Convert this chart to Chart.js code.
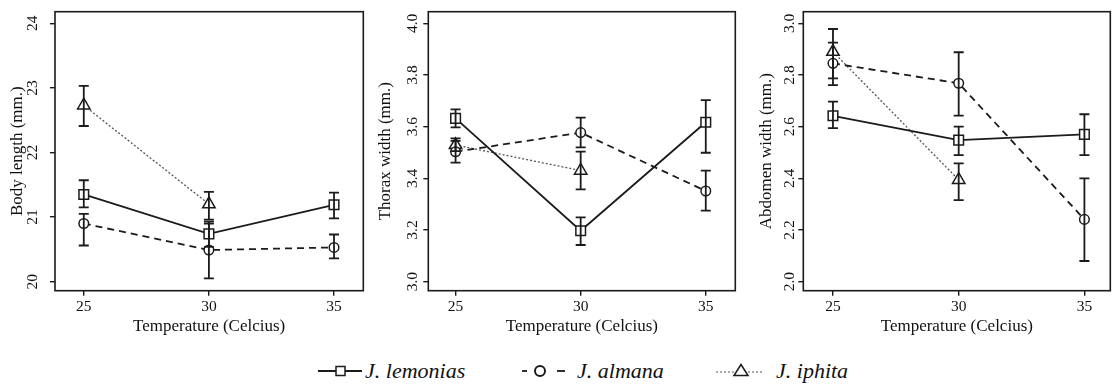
<!DOCTYPE html>
<html><head><meta charset="utf-8">
<script src="https://cdn.jsdelivr.net/npm/chart.js@4.4.1/dist/chart.umd.min.js"></script>
<style>
body{margin:0;background:#fff;width:1119px;height:390px;overflow:hidden;position:relative;font-family:"Liberation Serif","Times New Roman",serif}
.p{position:absolute;top:0;height:340px}
.sym{position:absolute;top:361px}
.lt{position:absolute;top:358px;line-height:26px;font-style:italic;font-size:22px;color:#111;white-space:nowrap}
</style></head><body>
<div class="p" style="left:0;width:372px"><canvas id="c1" width="372" height="340"></canvas></div>
<div class="p" style="left:372px;width:372px"><canvas id="c2" width="372" height="340"></canvas></div>
<div class="p" style="left:744px;width:375px"><canvas id="c3" width="375" height="340"></canvas></div>
<div id="legend"></div>
<script>
// ---------- data ----------
const temperatures = [25, 30, 35];
const seriesNames = ['J. lemonias', 'J. almana', 'J. iphita'];
const xTitle = 'Temperature (Celcius)';

// Body length (mm.)
const bodyLemonias     = [21.35, 20.74, 21.19];
const bodyLemoniasLow  = [21.15, 20.54, 20.98];
const bodyLemoniasHigh = [21.57, 20.93, 21.38];
const bodyAlmana       = [20.90, 20.49, 20.53];
const bodyAlmanaLow    = [20.56, 20.05, 20.36];
const bodyAlmanaHigh   = [21.05, 20.90, 20.73];
const bodyIphita       = [22.73, 21.20, null];
const bodyIphitaLow    = [22.41, 20.96, null];
const bodyIphitaHigh   = [23.03, 21.39, null];
const bodyTicks        = [20, 21, 22, 23, 24];
const bodyTickLabels   = ['20', '21', '22', '23', '24'];

// Thorax width (mm.)
const thoraxLemonias     = [3.632, 3.197, 3.617];
const thoraxLemoniasLow  = [3.597, 3.142, 3.499];
const thoraxLemoniasHigh = [3.667, 3.249, 3.703];
const thoraxAlmana       = [3.503, 3.577, 3.351];
const thoraxAlmanaLow    = [3.461, 3.520, 3.275];
const thoraxAlmanaHigh   = [3.545, 3.635, 3.430];
const thoraxIphita       = [3.529, 3.430, null];
const thoraxIphitaLow    = [3.505, 3.357, null];
const thoraxIphitaHigh   = [3.555, 3.503, null];
const thoraxTicks        = [3.0, 3.2, 3.4, 3.6, 3.8, 4.0];
const thoraxTickLabels   = ['3.0', '3.2', '3.4', '3.6', '3.8', '4.0'];

// Abdomen width (mm.)
const abdLemonias     = [2.642, 2.548, 2.570];
const abdLemoniasLow  = [2.594, 2.490, 2.490];
const abdLemoniasHigh = [2.697, 2.600, 2.648];
const abdAlmana       = [2.845, 2.768, 2.241];
const abdAlmanaLow    = [2.761, 2.643, 2.080];
const abdAlmanaHigh   = [2.925, 2.888, 2.400];
const abdIphita       = [2.890, 2.394, null];
const abdIphitaLow    = [2.787, 2.316, null];
const abdIphitaHigh   = [2.978, 2.458, null];
const abdTicks        = [2.0, 2.2, 2.4, 2.6, 2.8, 3.0];
const abdTickLabels   = ['2.0', '2.2', '2.4', '2.6', '2.8', '3.0'];

// ---------- styling ----------
const FONT = '"Liberation Serif","Times New Roman",serif';
const INK = '#1b1b1b';
const styles = [
  {pointStyle:'rect', pointRadius:6.8, borderDash:[], borderWidth:1.8, borderColor:INK},
  {pointStyle:'circle', pointRadius:4.8, borderDash:[7,5], borderWidth:1.8, borderColor:INK},
  {pointStyle:'triangle', pointRadius:7.2, borderDash:[2,2], borderWidth:1.3, borderColor:'#555'}
];

function toPts(vals){
  const out = [];
  temperatures.forEach((t,i)=>{ if (vals[i] !== null) out.push({x:t, y:vals[i]}); });
  return out;
}

const framePlugin = {
  id:'frame',
  afterDraw(chart){
    const a = chart.chartArea, ctx = chart.ctx;
    ctx.save();
    ctx.strokeStyle = INK; ctx.lineWidth = 1.6;
    ctx.strokeRect(a.left, a.top, a.right - a.left, a.bottom - a.top);
    ctx.restore();
  }
};

const errorPlugin = {
  id:'errbars',
  afterDatasetsDraw(chart){
    const ctx = chart.ctx, xs = chart.scales.x, ys = chart.scales.y;
    ctx.save();
    ctx.strokeStyle = INK; ctx.lineWidth = 1.8; ctx.setLineDash([]);
    chart.data.datasets.forEach(ds=>{
      ds.errLow.forEach((lo,i)=>{
        const hi = ds.errHigh[i];
        if (lo === null || hi === null) return;
        const x = xs.getPixelForValue(temperatures[i]);
        const y1 = ys.getPixelForValue(lo), y2 = ys.getPixelForValue(hi);
        ctx.beginPath();
        ctx.moveTo(x, y1); ctx.lineTo(x, y2);
        ctx.moveTo(x-5, y1); ctx.lineTo(x+5, y1);
        ctx.moveTo(x-5, y2); ctx.lineTo(x+5, y2);
        ctx.stroke();
      });
    });
    ctx.restore();
  }
};

const yLabelPlugin = {
  id:'ylabels',
  afterDraw(chart, args, opts){
    const ys = chart.scales.y, ctx = chart.ctx;
    ctx.save();
    ctx.fillStyle = '#111';
    ctx.font = '15.5px ' + FONT;
    ctx.textAlign = 'center'; ctx.textBaseline = 'middle';
    const x = chart.chartArea.left - opts.gap;
    opts.values.forEach((v,i)=>{
      const y = ys.getPixelForValue(v);
      ctx.save(); ctx.translate(x, y); ctx.rotate(-Math.PI/2);
      ctx.fillText(opts.labels[i], 0, 0);
      ctx.restore();
    });
    ctx.restore();
  }
};

function makePanel(cfg){
  const sets = cfg.series.map((s,k)=>Object.assign({
    label: seriesNames[k],
    data: toPts(s.v),
    errLow: s.lo, errHigh: s.hi,
    pointBackgroundColor:'#fff', pointBorderColor:INK, pointBorderWidth:1.5,
    pointHoverRadius:6, fill:false, tension:0
  }, styles[k]));
  new Chart(document.getElementById(cfg.id), {
    type:'line',
    data:{datasets:sets},
    options:{
      responsive:false, animation:false, events:[],
      layout:{padding:{top:11.7, right:cfg.rightPad, left:0, bottom:0}},
      plugins:{legend:{display:false}, tooltip:{enabled:false},
        ylabels:{values:cfg.ticks, labels:cfg.tickLabels, gap:cfg.labelGap}},
      scales:{
        x:{type:'linear', min:cfg.xmin, max:cfg.xmax,
          afterBuildTicks:s=>{ s.ticks = temperatures.map(v=>({value:v})); },
          afterFit:s=>{ s.height = 49.3; },
          border:{display:false},
          grid:{drawOnChartArea:false, tickLength:5, color:INK, lineWidth:1.4},
          ticks:{font:{family:FONT, size:15.5}, color:'#111', padding:2, maxRotation:0, minRotation:0,
            callback:v=>String(v)},
          title:{display:true, text:xTitle, color:'#111', font:{family:FONT, size:17}, padding:{top:0, bottom:3}}
        },
        y:{type:'linear', min:cfg.ymin, max:cfg.ymax,
          afterBuildTicks:s=>{ s.ticks = cfg.ticks.map(v=>({value:v})); },
          afterFit:s=>{ s.width = cfg.axisW; },
          border:{display:false},
          grid:{drawOnChartArea:false, tickLength:5, color:INK, lineWidth:1.4},
          ticks:{display:false},
          title:{display:true, text:cfg.yTitle, color:'#111', font:{family:FONT, size:17}, padding:{top:cfg.titlePad, bottom:0}}
        }
      }
    },
    plugins:[errorPlugin, framePlugin, yLabelPlugin]
  });
}

makePanel({id:'c1', yTitle:'Body length (mm.)', axisW:55, rightPad:4, titlePad:7, labelGap:22,
  xmin:23.85, xmax:36.17, ymin:19.86, ymax:24.18, ticks:bodyTicks, tickLabels:bodyTickLabels,
  series:[{v:bodyLemonias, lo:bodyLemoniasLow, hi:bodyLemoniasHigh},
          {v:bodyAlmana, lo:bodyAlmanaLow, hi:bodyAlmanaHigh},
          {v:bodyIphita, lo:bodyIphitaLow, hi:bodyIphitaHigh}]});
makePanel({id:'c2', yTitle:'Thorax width (mm.)', axisW:56.3, rightPad:3.3, titlePad:3, labelGap:15,
  xmin:23.91, xmax:36.18, ymin:2.965, ymax:4.045, ticks:thoraxTicks, tickLabels:thoraxTickLabels,
  series:[{v:thoraxLemonias, lo:thoraxLemoniasLow, hi:thoraxLemoniasHigh},
          {v:thoraxAlmana, lo:thoraxAlmanaLow, hi:thoraxAlmanaHigh},
          {v:thoraxIphita, lo:thoraxIphitaLow, hi:thoraxIphitaHigh}]});
makePanel({id:'c3', yTitle:'Abdomen width (mm.)', axisW:59.3, rightPad:6.3, titlePad:12, labelGap:13,
  xmin:23.82, xmax:36.03, ymin:1.965, ymax:3.045, ticks:abdTicks, tickLabels:abdTickLabels,
  series:[{v:abdLemonias, lo:abdLemoniasLow, hi:abdLemoniasHigh},
          {v:abdAlmana, lo:abdAlmanaLow, hi:abdAlmanaHigh},
          {v:abdIphita, lo:abdIphitaLow, hi:abdIphitaHigh}]});

// ---------- legend ----------
const legendSymLeft = [318, 521, 716];
const legendTextLeft = [365, 577, 776];
const legendSymbols = [
  '<svg width="46" height="20"><line x1="0" y1="10" x2="44" y2="10" stroke="#1b1b1b" stroke-width="1.8"/><rect x="18" y="5.5" width="9" height="9" fill="#fff" stroke="#1b1b1b" stroke-width="1.5"/></svg>',
  '<svg width="46" height="20"><line x1="1" y1="10" x2="6" y2="10" stroke="#1b1b1b" stroke-width="1.8"/><line x1="36" y1="10" x2="44" y2="10" stroke="#1b1b1b" stroke-width="1.8"/><circle cx="19" cy="10" r="5" fill="#fff" stroke="#1b1b1b" stroke-width="2"/></svg>',
  '<svg width="50" height="20"><line x1="0" y1="11" x2="48" y2="11" stroke="#555" stroke-width="1.2" stroke-dasharray="2,2"/><polygon points="25,3.5 32,14.5 18,14.5" fill="#fff" stroke="#1b1b1b" stroke-width="1.5"/></svg>'
];
const lg = document.getElementById('legend');
seriesNames.forEach((n,i)=>{
  const s = document.createElement('div');
  s.className = 'sym'; s.style.left = legendSymLeft[i] + 'px';
  s.innerHTML = legendSymbols[i];
  lg.appendChild(s);
  const t = document.createElement('div');
  t.className = 'lt'; t.style.left = legendTextLeft[i] + 'px';
  t.textContent = n;
  lg.appendChild(t);
});
</script>
</body></html>
